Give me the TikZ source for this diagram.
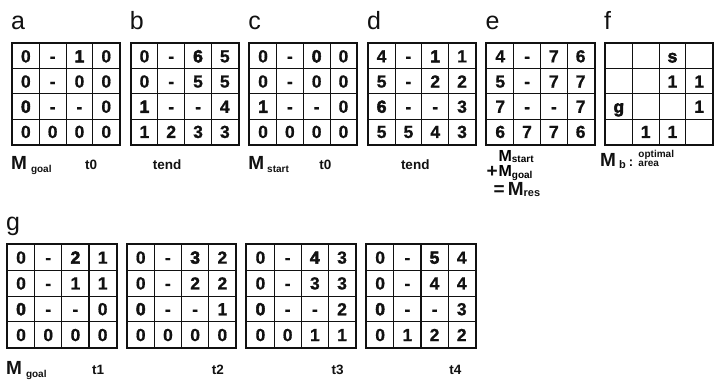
\documentclass[tikz,border=0pt]{standalone}
\usepackage{fontspec}
\setmainfont{Liberation Sans}
\newfontfamily\grueso[FakeBold=3]{Liberation Sans Bold}
\newfontfamily\cifra[FakeBold=0.8]{Liberation Sans Bold}
\usepackage{tikz}
\usetikzlibrary{matrix,positioning}
\definecolor{tinta}{HTML}{111111}
\newcommand{\hv}[1]{{\grueso #1}}
\newcommand{\subt}[2][-3pt]{\raisebox{#1}{\fontsize{10}{10}\selectfont #2}}

\begin{document}
\begin{tikzpicture}[x=1pt,y=1pt,
    celda/.style={draw=tinta,line width=1.1pt,minimum width=26.8pt,
                  minimum height=25.2pt,inner sep=0pt,text height=12.6pt,
                  text depth=0pt,
                  font=\fontsize{17.5}{17.5}\selectfont\cifra\color{tinta}},
    celdag/.style={celda,minimum width=27.2pt,minimum height=25.8pt},
    rejilla/.style={matrix of nodes,nodes in empty cells,nodes={celda},
                    draw=tinta,line width=1.8pt,inner sep=0pt,
                    column sep=-1.1pt,row sep=-1.1pt},
    rejillag/.style={rejilla,nodes={celdag}},
    letra/.style={inner sep=0pt,font=\fontsize{25}{25}\selectfont\color{tinta}},
    etiq/.style={inner sep=0pt,font=\fontsize{19}{19}\selectfont\bfseries\color{tinta}},
    tiempo/.style={inner sep=0pt,font=\fontsize{13.5}{13.5}\selectfont\bfseries\color{tinta}},
    nota/.style={inner sep=0pt,font=\fontsize{10}{10}\selectfont\bfseries\color{tinta}}]
  \useasboundingbox (0,0) rectangle (718,-384);
  % top row
  \matrix (ma) [rejilla,anchor=north west] at (11,-42) {
    0 & - & \hv{1} & 0 \\
    0 & - & 0 & 0 \\
    \hv{0} & - & - & 0 \\
    0 & 0 & 0 & 0 \\};
  \matrix (mb) [rejilla,right=8.5pt of ma] {
    0 & - & \hv{6} & 5 \\
    0 & - & 5 & 5 \\
    \hv{1} & - & - & 4 \\
    1 & 2 & 3 & 3 \\};
  \matrix (mc) [rejilla,right=8.5pt of mb] {
    0 & - & \hv{0} & 0 \\
    0 & - & 0 & 0 \\
    \hv{1} & - & - & 0 \\
    0 & 0 & 0 & 0 \\};
  \matrix (md) [rejilla,right=8.5pt of mc] {
    4 & - & \hv{1} & 1 \\
    5 & - & 2 & 2 \\
    \hv{6} & - & - & 3 \\
    5 & 5 & 4 & 3 \\};
  \matrix (me) [rejilla,right=8.5pt of md] {
    4 & - & 7 & 6 \\
    5 & - & 7 & 7 \\
    7 & - & - & 7 \\
    6 & 7 & 7 & 6 \\};
  \matrix (mf) [rejilla,right=8.5pt of me] {
      &   & \hv{s} &   \\
      &   & 1 & 1 \\
    \hv{g} &   &   & 1 \\
      & 1 & 1 &   \\};
  \node[letra,above=13pt of ma.north west,anchor=base west] (la) {a};
  \node[letra,above=13pt of mb.north west,anchor=base west] (lb) {b};
  \node[letra,above=13pt of mc.north west,anchor=base west] (lc) {c};
  \node[letra,above=13pt of md.north west,anchor=base west] (ld) {d};
  \node[letra,above=13pt of me.north west,anchor=base west] (le) {e};
  \node[letra,above=13pt of mf.north west,anchor=base west] (lf) {f};
  \node[etiq,below=24pt of ma.south west,anchor=base west] (ra) {M\hspace{4pt}\subt{goal}};
  \node[tiempo,below right=24pt and 74pt of ma.south west,anchor=base west] (ta) {t0};
  \node[tiempo,below right=24pt and 23pt of mb.south west,anchor=base west] (tb) {tend};
  \node[etiq,below=24pt of mc.south west,anchor=base west] (rc) {M\hspace{3pt}\subt{start}};
  \node[tiempo,below right=24pt and 71pt of mc.south west,anchor=base west] (tc) {t0};
  \node[tiempo,below right=24pt and 34pt of md.south west,anchor=base west] (td) {tend};
  % e: sum of the two maps
  \node[etiq,font=\fontsize{16}{16}\selectfont\bfseries,below right=16pt and 13pt of me.south west,anchor=base west] (rs) {M\subt[-1pt]{start}};
  \node[etiq,font=\fontsize{16}{16}\selectfont\bfseries,below right=31pt and 13pt of me.south west,anchor=base west] (rg) {M\subt[-2pt]{goal}};
  \node[etiq,below right=32pt and 1pt of me.south west,anchor=base west] (suma) {+};
  \node[etiq,below right=50pt and 8pt of me.south west,anchor=base west] (rr) {=\,M\subt[-1pt]{\fontsize{11}{11}\selectfont res}};
  \node[etiq,below right=21pt and -4pt of mf.south west,anchor=base west] (rb) {M\hspace{3pt}\subt[-2pt]{\fontsize{11}{11}\selectfont b}\hspace{3pt}{\fontsize{13}{13}\selectfont :}};
  \node[nota,above right=9pt and 5pt of rb.base east,anchor=base west] (op) {optimal};
  \node[nota,right=5pt of rb.base east,anchor=base west] (ar) {area};
  % row g
  \matrix (mg1) [rejillag,anchor=north west] at (6,-243) {
    0 & - & \hv{2} & 1 \\
    0 & - & 1 & 1 \\
    \hv{0} & - & - & 0 \\
    0 & 0 & 0 & 0 \\};
  \matrix (mg2) [rejillag,right=8pt of mg1] {
    0 & - & \hv{3} & 2 \\
    0 & - & 2 & 2 \\
    \hv{0} & - & - & 1 \\
    0 & 0 & 0 & 0 \\};
  \matrix (mg3) [rejillag,right=8pt of mg2] {
    0 & - & \hv{4} & 3 \\
    0 & - & 3 & 3 \\
    \hv{0} & - & - & 2 \\
    0 & 0 & 1 & 1 \\};
  \matrix (mg4) [rejillag,right=8pt of mg3] {
    0 & - & \hv{5} & 4 \\
    0 & - & 4 & 4 \\
    \hv{0} & - & - & 3 \\
    0 & 1 & 2 & 2 \\};
  \node[letra,above=13pt of mg1.north west,anchor=base west] (lg) {g};
  \node[etiq,below=25pt of mg1.south west,anchor=base west] (rg1) {M\hspace{4pt}\subt{goal}};
  \node[tiempo,below right=25pt and 86pt of mg1.south west,anchor=base west] (tg1) {t1};
  \node[tiempo,below right=25pt and 86pt of mg2.south west,anchor=base west] (tg2) {t2};
  \node[tiempo,below right=25pt and 86pt of mg3.south west,anchor=base west] (tg3) {t3};
  \node[tiempo,below right=25pt and 84pt of mg4.south west,anchor=base west] (tg4) {t4};
\end{tikzpicture}
\end{document}
